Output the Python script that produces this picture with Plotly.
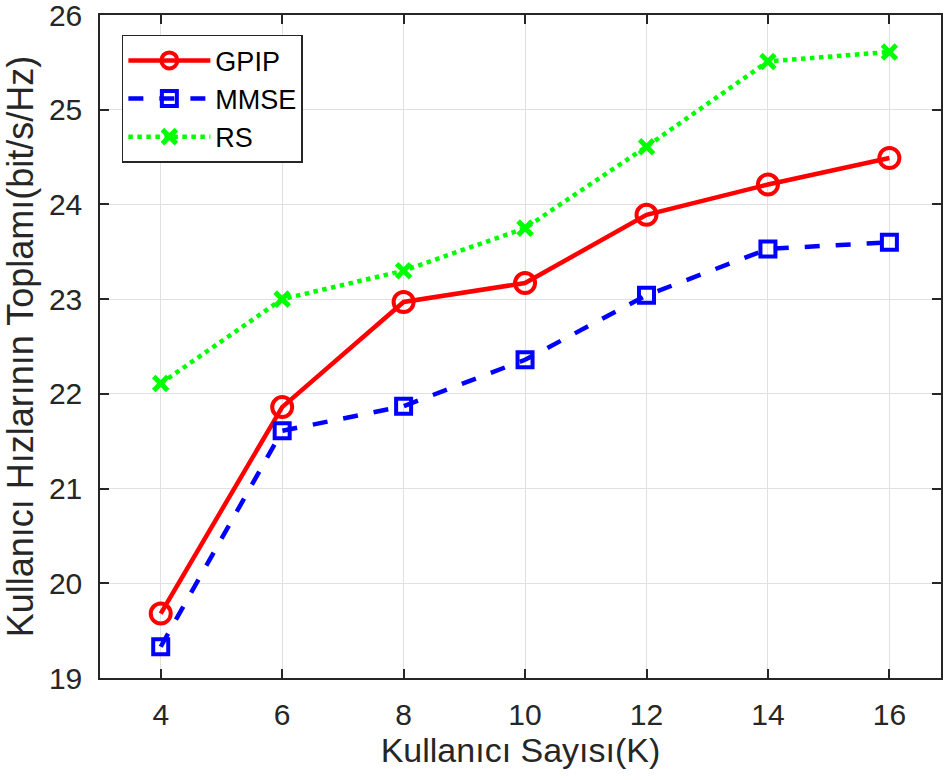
import plotly.graph_objects as go

K = [4, 6, 8, 10, 12, 14, 16]
gpip = [19.68, 21.86, 22.97, 23.17, 23.89, 24.21, 24.49]
mmse = [19.33, 21.61, 21.87, 22.36, 23.04, 23.53, 23.60]
rs = [22.11, 23.00, 23.30, 23.75, 24.61, 25.51, 25.61]

x_ticks = [4, 6, 8, 10, 12, 14, 16]
y_ticks = [19, 20, 21, 22, 23, 24, 25, 26]

font_family = "Liberation Sans, Arial, sans-serif"

fig = go.Figure()
fig.add_trace(go.Scatter(
    x=K, y=gpip, name="GPIP", mode="lines+markers",
    line=dict(color="#ff0000", width=4.5),
    marker=dict(symbol="circle-open", size=20, color="#ff0000", line=dict(width=4)),
))
fig.add_trace(go.Scatter(
    x=K, y=mmse, name="MMSE", mode="lines+markers",
    line=dict(color="#0000ff", width=4.5, dash="15px,16px"),
    marker=dict(symbol="square-open", size=15, color="#0000ff", line=dict(width=4)),
))
fig.add_trace(go.Scatter(
    x=K, y=rs, name="RS", mode="lines+markers",
    line=dict(color="#00ff00", width=4.5, dash="dot"),
    marker=dict(symbol="x-thin-open", size=14, color="#00ff00", line=dict(width=5, color="#00ff00")),
))

fig.update_layout(
    width=944, height=780,
    margin=dict(l=100, r=3, t=15, b=102),
    paper_bgcolor="white", plot_bgcolor="white",
    font=dict(family=font_family, color="#262626"),
    showlegend=True,
    legend=dict(
        x=0.026, y=0.97, xanchor="left", yanchor="top",
        bgcolor="white", bordercolor="#262626", borderwidth=1.5,
        font=dict(size=27, color="black"),
        itemwidth=82, tracegroupgap=0,
    ),
)
fig.update_xaxes(
    range=[3, 16.85], tickvals=x_ticks, ticktext=[str(v) for v in x_ticks],
    showgrid=True, gridcolor="#e0e0e0", gridwidth=1,
    showline=True, linecolor="#262626", linewidth=1.5, mirror="ticks",
    ticks="inside", ticklen=9, tickwidth=1.5, tickcolor="#262626",
    tickfont=dict(size=30, color="#262626"), ticklabelstandoff=9,
    ticklabeloverflow="allow", automargin="bottom",
    title=dict(text="Kullanıcı Sayısı(K)", font=dict(size=34, color="#262626"), standoff=8),
    zeroline=False,
)
fig.update_yaxes(
    range=[19, 26], tickvals=y_ticks, ticktext=[str(v) for v in y_ticks],
    showgrid=True, gridcolor="#e0e0e0", gridwidth=1,
    showline=True, linecolor="#262626", linewidth=1.5, mirror="ticks",
    ticks="inside", ticklen=9, tickwidth=1.5, tickcolor="#262626",
    tickfont=dict(size=30, color="#262626"), ticklabelstandoff=10,
    ticklabeloverflow="allow", automargin="left",
    title=dict(text="Kullanıcı Hızlarının Toplamı(bit/s/Hz)", font=dict(size=36, color="#262626"), standoff=4),
    zeroline=False,
)

fig.write_html("out.html")
